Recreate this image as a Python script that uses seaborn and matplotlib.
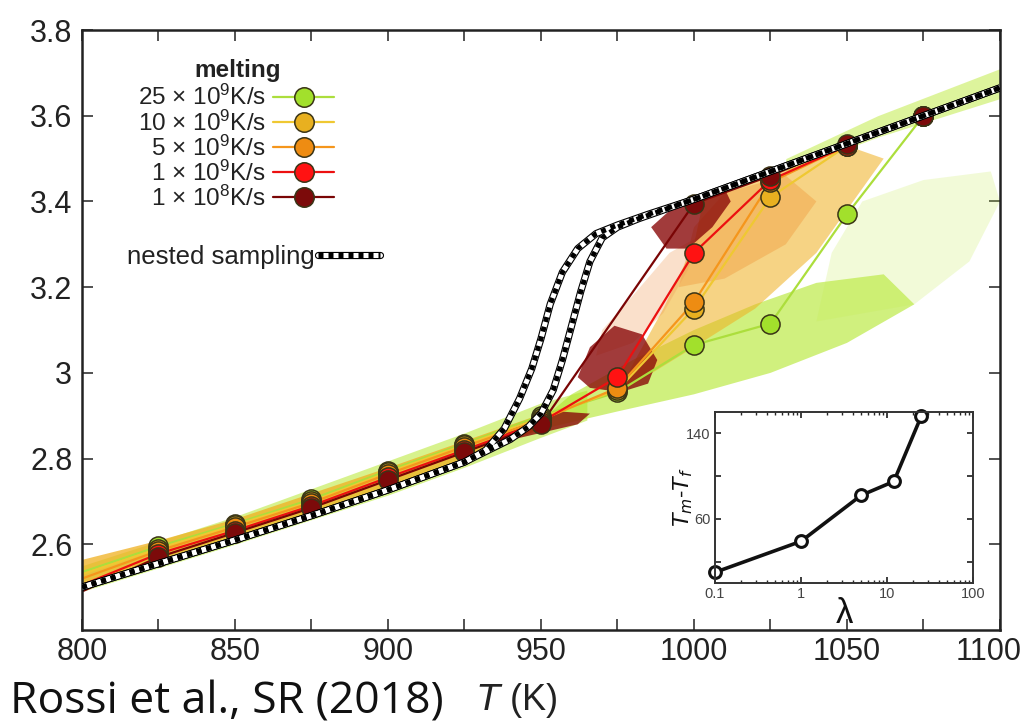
import numpy as np
import pandas as pd
import matplotlib
matplotlib.use("Agg")
import matplotlib.pyplot as plt
from matplotlib.lines import Line2D
from matplotlib.ticker import MultipleLocator, FixedLocator, NullFormatter
import seaborn as sns

# ---- data ----
T_line = [800, 825, 850, 875, 900, 925, 950, 975, 1000, 1025, 1050, 1075, 1100]
rate_25 = [2.535, 2.595, 2.648, 2.705, 2.772, 2.835, 2.90, 2.955, 3.065, 3.115, 3.37, 3.60, 3.665]
rate_10 = [2.53, 2.59, 2.645, 2.70, 2.768, 2.832, 2.895, 2.96, 3.15, 3.41, 3.53, 3.60, 3.665]
rate_5 = [2.52, 2.585, 2.64, 2.697, 2.764, 2.828, 2.89, 2.965, 3.165, 3.445, 3.53, 3.60, 3.665]
rate_1 = [2.505, 2.578, 2.632, 2.69, 2.756, 2.82, 2.885, 2.99, 3.28, 3.45, 3.53, 3.60, 3.665]
T_slow = [800, 825, 850, 875, 900, 925, 950, 1000, 1025, 1050, 1075, 1100]
rate_01 = [2.49, 2.57, 2.627, 2.685, 2.75, 2.815, 2.88, 3.395, 3.46, 3.535, 3.60, 3.665]

rate_labels = ["25 × 10$^9$K/s", "10 × 10$^9$K/s", "5 × 10$^9$K/s",
               "1 × 10$^9$K/s", "1 × 10$^8$K/s"]
line_colors = ["#acde3c", "#efc832", "#f5961c", "#ec1010", "#7a0505"]
face_colors = ["#a2e02c", "#e8b020", "#ee8c12", "#ff1212", "#7c0a0a"]

x_ticks = [800, 850, 900, 950, 1000, 1050, 1100]
x_ticklabels = ["800", "850", "900", "950", "1000", "1050", "1100"]
y_ticks = [2.6, 2.8, 3.0, 3.2, 3.4, 3.6, 3.8]
y_ticklabels = ["2.6", "2.8", "3", "3.2", "3.4", "3.6", "3.8"]

# nested sampling curves (two branches)
ns_T_a = [800, 825, 850, 875, 900, 925, 932, 938, 943, 947, 950, 953, 957, 962,
          968, 975, 985, 1000, 1025, 1050, 1075, 1100]
ns_a = [2.50, 2.555, 2.61, 2.667, 2.727, 2.792, 2.82, 2.87, 2.94, 3.01, 3.08, 3.16,
        3.235, 3.29, 3.325, 3.345, 3.37, 3.405, 3.47, 3.535, 3.60, 3.665]
ns_T_b = [800, 825, 850, 875, 900, 925, 940, 946, 950, 954, 957, 960, 963, 966,
          970, 975, 982, 1000, 1025, 1050, 1075, 1100]
ns_b = [2.50, 2.555, 2.61, 2.667, 2.727, 2.792, 2.845, 2.875, 2.905, 2.96, 3.03,
        3.11, 3.19, 3.26, 3.315, 3.34, 3.36, 3.405, 3.47, 3.535, 3.60, 3.665]

# sample clouds (outlines of the MD point clouds)
green_band_T = [800, 850, 900, 925, 950, 965]
green_band_lo = [2.49, 2.60, 2.715, 2.78, 2.85, 2.89]
green_band_hi = [2.55, 2.665, 2.795, 2.86, 2.93, 2.96]
yellow_band_T = [800, 825, 850, 900, 950]
yellow_band_lo = [2.505, 2.56, 2.615, 2.735, 2.87]
yellow_band_hi = [2.565, 2.61, 2.66, 2.78, 2.905]
green_dense_T = [945, 975, 1000, 1025, 1050, 1072, 1062, 1040, 1020, 1000, 980, 960]
green_dense_y = [2.86, 2.91, 2.95, 3.00, 3.07, 3.16, 3.23, 3.21, 3.16, 3.10, 3.03, 2.95]
green_sparse_T = [1040, 1072, 1090, 1100, 1097, 1075, 1055, 1045]
green_sparse_y = [3.12, 3.16, 3.26, 3.40, 3.47, 3.45, 3.40, 3.28]
green_top_T = [1030, 1060, 1100]
green_top_lo = [3.47, 3.55, 3.64]
green_top_hi = [3.50, 3.60, 3.71]
yellow_cloud_T = [975, 1000, 1020, 1040, 1050, 1062, 1050, 1025, 1003, 1000, 990, 980]
yellow_cloud_y = [2.95, 3.06, 3.15, 3.28, 3.38, 3.50, 3.53, 3.465, 3.40, 3.30, 3.15, 3.02]
orange_core_T = [995, 1010, 1030, 1040, 1030, 1010, 1000]
orange_core_y = [3.20, 3.22, 3.30, 3.40, 3.46, 3.42, 3.34]
orange_cloud_T = [968, 980, 990, 998, 1002, 992, 980, 970]
orange_cloud_y = [3.04, 3.07, 3.14, 3.24, 3.32, 3.28, 3.18, 3.10]
dark_blob_T = [962, 966, 974, 983, 988, 985, 976, 966]
dark_blob_y = [2.99, 3.06, 3.11, 3.09, 3.03, 2.975, 2.955, 2.965]
dark_top_T = [986, 993, 1000, 1010, 1012, 1006, 998, 991]
dark_top_y = [3.34, 3.385, 3.41, 3.43, 3.40, 3.34, 3.29, 3.29]
dark_low_T = [935, 950, 962, 966, 956, 942]
dark_low_y = [2.835, 2.86, 2.88, 2.905, 2.91, 2.88]

# inset: T_m - T_f versus lambda
lam = [0.1, 1, 5, 12, 25]
dT = [10, 39, 82, 95, 156]

# ---- style ----
sns.set_theme(style="ticks")
plt.rcParams["font.family"] = ["Liberation Sans", "DejaVu Sans"]
plt.rcParams["mathtext.default"] = "regular"

fig = plt.figure(figsize=(10.25, 7.27), dpi=100)
ax = fig.add_axes([0.080, 0.1334, 0.8956, 0.8253])

# clouds
ax.fill_between(green_band_T, green_band_lo, green_band_hi, color="#b6e830", alpha=0.55, lw=0, zorder=1)
ax.fill(green_dense_T, green_dense_y, color="#b2e628", alpha=0.6, lw=0, zorder=1)
ax.fill(green_sparse_T, green_sparse_y, color="#c4ec50", alpha=0.22, lw=0, zorder=1)
ax.fill_between(green_top_T, green_top_lo, green_top_hi, color="#bdea3a", alpha=0.5, lw=0, zorder=1)
ax.fill(yellow_cloud_T, yellow_cloud_y, color="#f0b020", alpha=0.55, lw=0, zorder=1.1)
ax.fill(orange_core_T, orange_core_y, color="#ee9030", alpha=0.35, lw=0, zorder=1.1)
ax.fill(orange_cloud_T, orange_cloud_y, color="#ef9a55", alpha=0.3, lw=0, zorder=1.1)
ax.fill_between(yellow_band_T, yellow_band_lo, yellow_band_hi, color="#f0b020", alpha=0.75, lw=0, zorder=1.2)
for bt, by in [(dark_blob_T, dark_blob_y), (dark_top_T, dark_top_y), (dark_low_T, dark_low_y)]:
    ax.fill(bt, by, color="#8a0a0a", alpha=0.8, lw=0, zorder=1.3)

# rate series: lines then markers
series = [(T_line, rate_25), (T_line, rate_10), (T_line, rate_5), (T_line, rate_1), (T_slow, rate_01)]
for i, (tt, yy) in enumerate(series):
    df = pd.DataFrame({"T": tt, "v": yy})
    sns.lineplot(data=df, x="T", y="v", ax=ax, color=line_colors[i], lw=1.6,
                 sort=False, estimator=None, zorder=2 + i * 0.1)
for i, (tt, yy) in enumerate(series):
    df = pd.DataFrame({"T": tt[1:-1], "v": yy[1:-1]})
    sns.scatterplot(data=df, x="T", y="v", ax=ax, color=face_colors[i], s=190,
                    edgecolor="#3a3416", linewidth=1.1, zorder=3 + i * 0.1)

# nested sampling checkered lines
for tt, yy in [(ns_T_a, ns_a), (ns_T_b, ns_b)]:
    ax.plot(tt, yy, color="black", lw=5.2, zorder=5, solid_capstyle="butt")
    ax.plot(tt, yy, color="white", lw=3.6, zorder=5.1, solid_capstyle="butt")
    ax.plot(tt, yy, color="black", lw=3.6, zorder=5.2, dashes=(1.0, 1.0))

ax.set_xlim(800, 1100)
ax.set_ylim(2.4, 3.8)
ax.set_xlabel("")
ax.set_ylabel("")
# last x label is written separately so it stays inside the canvas
ax.set_xticks(x_ticks, labels=x_ticklabels[:-1] + [""])
ax.xaxis.set_minor_locator(MultipleLocator(25))
ax.set_yticks(y_ticks, labels=y_ticklabels)
ax.tick_params(which="both", direction="in", top=True, right=True, width=1.1, colors="#222222",
               labelcolor="#222222", labelsize=22)
ax.tick_params(which="major", length=8)
ax.tick_params(which="minor", length=8)
ax.tick_params(axis="y", pad=7)
ax.tick_params(axis="x", pad=5)
for sp in ax.spines.values():
    sp.set_linewidth(1.8)
    sp.set_color("#222222")
fig.text(1022 / 1025, 1 - 637 / 727, x_ticklabels[-1], fontsize=22, ha="right", va="top",
         color="#222222")

# legend: heating rates
handles = [Line2D([], [], color=line_colors[i], lw=1.6, marker="o", markersize=14,
                  markerfacecolor=face_colors[i], markeredgecolor="#3a3416", markeredgewidth=1.1)
           for i in range(5)]
leg1 = ax.legend(handles, rate_labels, loc="upper right",
                 bbox_to_anchor=(334 / 1025, 1 - 85 / 727), bbox_transform=fig.transFigure,
                 frameon=False, markerfirst=False, fontsize=17.5,
                 handlelength=2.5, handletextpad=0.3, labelspacing=0.0, borderpad=0,
                 borderaxespad=0)
for t in leg1.get_texts():
    t.set_color("#222222")
ax.add_artist(leg1)
fig.text(238 / 1025, 1 - 70 / 727, "melting", fontsize=17.5, fontweight="bold",
         ha="center", va="center", color="#222222")

ns_handle = (Line2D([], [], color="black", lw=5.2),
             Line2D([], [], color="white", lw=3.6),
             Line2D([], [], color="black", lw=3.6, dashes=(1.0, 1.0)))
leg2 = ax.legend([ns_handle], ["nested sampling"], loc="upper right",
                 bbox_to_anchor=(380 / 1025, 1 - 245 / 727), bbox_transform=fig.transFigure,
                 frameon=False, markerfirst=False, fontsize=18.5, handlelength=2.4,
                 handletextpad=0.15, borderpad=0, borderaxespad=0)
leg2.get_texts()[0].set_color("#222222")

# inset
axin = fig.add_axes([715 / 1025, 1 - 583 / 727, 258 / 1025, 171 / 727])
axin.set_facecolor("white")
dfi = pd.DataFrame({"lam": lam, "dT": dT})
sns.lineplot(data=dfi, x="lam", y="dT", ax=axin, color="#111111", lw=2.6,
             marker="o", markersize=8.5, markerfacecolor="white", markeredgecolor="#111111",
             markeredgewidth=2.2, clip_on=False)
axin.set_xscale("log")
axin.set_xlim(0.1, 100)
axin.set_ylim(0, 160)
axin.set_xticks([0.1, 1, 10, 100])
axin.set_xticklabels(["0.1", "1", "10", "100"])
axin.set_yticks([20, 60, 100, 140])
axin.set_yticklabels(["", "60", "", "140"])
axin.xaxis.set_minor_formatter(NullFormatter())
axin.tick_params(which="both", direction="in", top=True, right=True, labelsize=10.5,
                 labelcolor="#444444", pad=3)
axin.tick_params(which="major", length=4)
axin.tick_params(which="minor", length=2.5)
for sp in axin.spines.values():
    sp.set_linewidth(1.4)
    sp.set_color("#333333")
axin.set_xlabel("λ", fontsize=25, labelpad=-3, color="#111111")
axin.set_ylabel(r"$\mathit{T_m}$-$\mathit{T_f}$", fontsize=16, labelpad=-6, color="#111111")

# axis label and citation
fig.text(517 / 1025, 1 - 700 / 727, r"$\mathit{T}$ (K)", fontsize=26, ha="center", va="center",
         color="#222222")
fig.text(10 / 1025, 1 - 702 / 727, "Rossi et al., SR (2018)", fontsize=32, ha="left",
         va="center", family=["Open Sans", "DejaVu Sans"], color="#111111")

fig.savefig("out.png", dpi=100)
